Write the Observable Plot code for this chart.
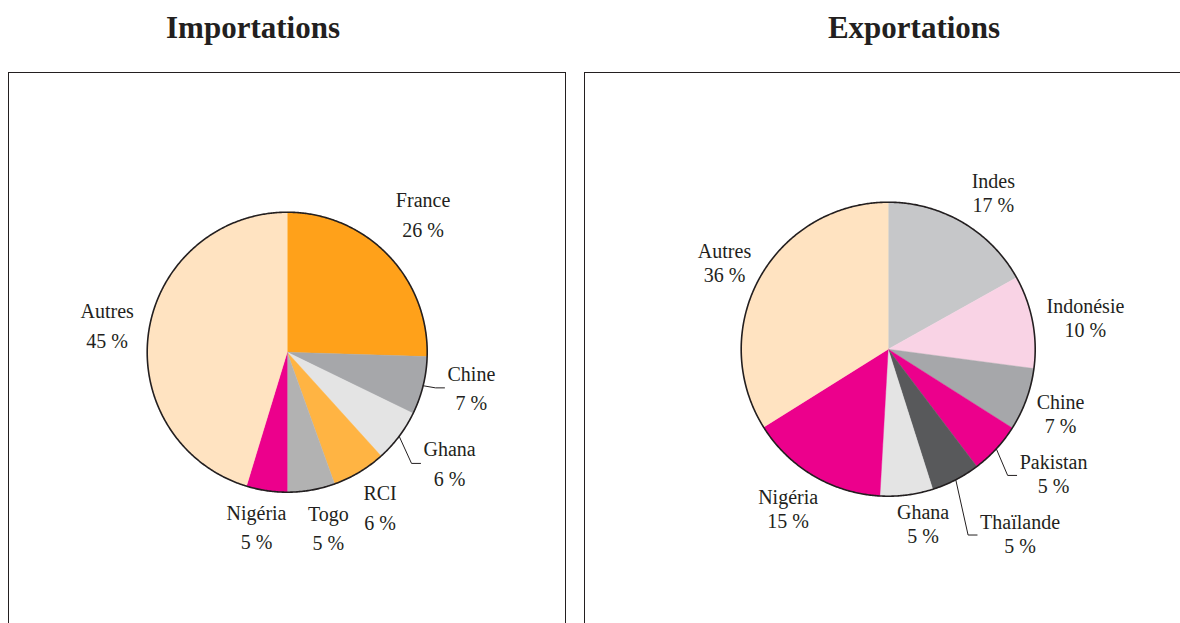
<!DOCTYPE html>
<html><head><meta charset="utf-8">
<script src="https://cdn.jsdelivr.net/npm/d3@7"></script>
<script src="https://cdn.jsdelivr.net/npm/@observablehq/plot@0.6"></script>
<style>
html,body{margin:0;padding:0;background:#fff;}
body{width:1180px;height:623px;overflow:hidden;position:relative;font-family:"Liberation Serif",serif;color:#231f20;}
.title{position:absolute;top:12px;font-weight:bold;font-size:31px;line-height:31px;white-space:nowrap;transform:translateX(-50%);}
.frame{position:absolute;top:71.5px;height:620px;border:1.5px solid #231f20;box-sizing:border-box;}
.panel{position:absolute;top:0;}
</style></head><body>
<svg width="0" height="0" style="position:absolute">
  <defs>
    <pattern id="dotsLight" width="2" height="2" patternUnits="userSpaceOnUse">
      <rect width="2" height="2" fill="#f1f1f1"/><rect width="1" height="1" fill="#bdbdbd"/>
    </pattern>
    <pattern id="dotsDark" width="2" height="2" patternUnits="userSpaceOnUse">
      <rect width="2" height="2" fill="#d4d4d4"/><rect width="1" height="1" fill="#8f8f8f"/><rect x="1" y="1" width="1" height="1" fill="#8f8f8f"/>
    </pattern>
  </defs>
</svg>
<div class="title" style="left:253px">Importations</div>
<div class="title" style="left:914px">Exportations</div>
<div class="frame" style="left:7.5px;width:558px"></div>
<div class="frame" style="left:583.5px;width:640px"></div>
<div id="left" class="panel" style="left:0"></div>
<div id="right" class="panel" style="left:580px"></div>
<script>
// ---- Data ----
const impCountries = ["France", "Chine", "Ghana", "RCI", "Togo", "Nigéria", "Autres"];
const impShares    = [25.5, 6.7, 6.1, 6.2, 5.5, 4.7, 45.3];   // slice sizes as drawn
const impLabels    = [26, 7, 6, 6, 5, 5, 45];                 // printed percentages

const expCountries = ["Indes", "Indonésie", "Chine", "Pakistan", "Thaïlande", "Ghana", "Nigéria", "Autres"];
const expShares    = [16.9, 10.2, 6.9, 5.7, 5.4, 5.8, 15.2, 33.9];
const expLabels    = [17, 10, 7, 5, 5, 5, 15, 36];

// ---- Styles ----
const impPaints = ["#FFA11A", "#A6A7AA", "url(#dotsLight)", "#FFB443", "url(#dotsDark)", "#EC008C", "#FFE3C1"];
const expPaints = ["#C6C7C9", "#F9D3E5", "#A6A7AA", "#EC008C", "#58595B", "url(#dotsLight)", "#EC008C", "#FFE3C1"];

// label placement: [angle offset from slice middle (deg), distance in radii]
const impLabelLayout = [[-1.3, 1.382], [-2.9, 1.34], [-2.5, 1.406], [0.1, 1.293], [-3.3, 1.29], [1.5, 1.268], [-0.1, 1.30]];
const expLabelLayout = [[3.8, 1.272], [2.2, 1.357], [1.0, 1.256], [-5.3, 1.415], [-8.0, 1.55], [-4.0, 1.222], [1.2, 1.292], [-1.5, 1.255]];

const ctx = document.createElement("canvas").getContext("2d");
ctx.font = "20px 'Liberation Serif'";

function piePanel(el, {W, H, cx, cy, r, names, shares, pct, paints, labelLayout, leaders, lineHeight}) {
  const total = d3.sum(shares);
  let acc = 0;
  const slices = shares.map((v, i) => {
    const a0 = acc / total * 360; acc += v; const a1 = acc / total * 360;
    return {i, name: names[i], a0, a1, mid: (a0 + a1) / 2};
  });
  const polar = (deg, rad) => [rad * Math.sin(deg * Math.PI / 180), rad * Math.cos(deg * Math.PI / 180)];
  const polys = slices.flatMap(s => {
    const n = Math.max(2, Math.ceil((s.a1 - s.a0) / 0.5));
    const pts = [{s: s.i, x: 0, y: 0}];
    for (let k = 0; k <= n; k++) {
      const [x, y] = polar(s.a0 + (s.a1 - s.a0) * k / n, r);
      pts.push({s: s.i, x, y});
    }
    pts.push({s: s.i, x: 0, y: 0});
    return pts;
  });
  const ring = d3.range(0, 721).map(k => { const [x, y] = polar(k / 2, r); return {x, y}; });
  const labels = slices.map(s => {
    const [da, f] = labelLayout[s.i];
    const [x, y] = polar(s.mid + da, r * f);
    return {x, y, text: `${s.name}\n${pct[s.i]} %`};
  });
  const leaderPts = leaders.flatMap(i => {
    const s = slices[i], L = labels[i];
    const w = Math.max(...L.text.split("\n").map(t => ctx.measureText(t).width));
    const [sx, sy] = polar(s.mid, r);
    const ex = L.x - w / 2 - 3;
    return [{g: i, x: sx, y: sy}, {g: i, x: ex - 9, y: L.y}, {g: i, x: ex, y: L.y}];
  });
  const plot = Plot.plot({
    width: W, height: H, margin: 0,
    x: {domain: [-cx, W - cx], range: [0, W], axis: null},
    y: {domain: [cy - H, cy], range: [H, 0], axis: null},
    color: {type: "identity"},
    style: {background: "transparent", overflow: "visible"},
    marks: [
      Plot.line(polys, {x: "x", y: "y", z: "s", fill: d => paints[d.s], stroke: d => paints[d.s], strokeWidth: 0.4, curve: "linear"}),
      Plot.line(ring, {x: "x", y: "y", stroke: "#231f20", strokeWidth: 1.6}),
      Plot.line(leaderPts, {x: "x", y: "y", z: "g", stroke: "#231f20", strokeWidth: 1}),
      Plot.text(labels, {x: "x", y: "y", dy: -2, text: "text", fontSize: 20, fontFamily: "Liberation Serif", lineHeight, fill: "#231f20"})
    ]
  });
  el.appendChild(plot);
}

piePanel(document.getElementById("left"), {
  W: 580, H: 623, cx: 286.7, cy: 351.7, r: 140,
  names: impCountries, shares: impShares, pct: impLabels, paints: impPaints,
  labelLayout: impLabelLayout, leaders: [1, 2], lineHeight: 1.475
});
piePanel(document.getElementById("right"), {
  W: 600, H: 623, cx: 307.7, cy: 348.7, r: 147,
  names: expCountries, shares: expShares, pct: expLabels, paints: expPaints,
  labelLayout: expLabelLayout, leaders: [3, 4], lineHeight: 1.2
});
</script>
</body></html>
